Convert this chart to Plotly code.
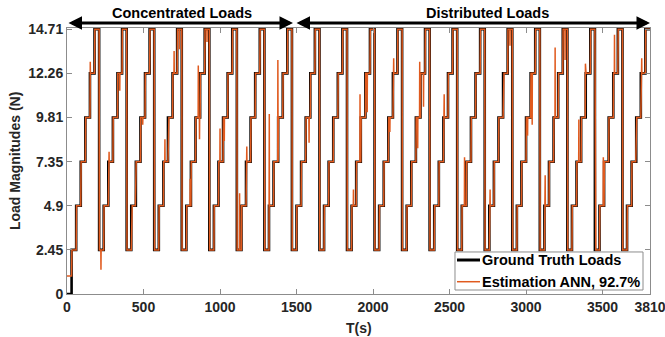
import plotly.graph_objects as go

# ---------------- data ----------------
truth_levels = [2.45, 4.9, 7.35, 9.81, 12.26, 14.71]
cycle_start_times = [30, 210, 390, 570, 750, 930, 1110, 1290, 1470, 1650, 1830,
                     2010, 2190, 2370, 2550, 2730, 2910, 3090, 3270, 3450, 3630]
step_duration = 30
end_time = 3810
initial_truth = 0.0
initial_estimate = 1.0
concentrated_end = 1477
distributed_start = 1490

# estimation excursions (time s, value N)
spike_times = [152, 222, 275, 345, 425, 448, 495, 640, 665, 700, 735, 805, 858, 866, 915,
               1000, 1028, 1128, 1175, 1322, 1378, 1582, 1872, 1915, 1962, 2110, 2135,
               2292, 2305, 2330, 2465, 2598, 2765, 2855, 2895, 3010, 3040, 3125, 3190,
               3255, 3345, 3388, 3455, 3505, 3578, 3718, 3722, 3756]
spike_values = [12.9, 1.35, 7.9, 11.3, 3.0, 5.3, 9.4, 8.6, 8.6, 13.5, 13.6, 6.4, 12.7, 8.6, 14.0,
                9.2, 8.5, 5.6, 8.2, 10.0, 13.0, 8.4, 5.8, 11.1, 10.1, 9.0, 13.1,
                8.1, 12.9, 10.4, 11.1, 7.6, 5.8, 11.0, 13.8, 8.8, 9.4, 6.6, 13.7,
                13.0, 9.7, 12.8, 3.7, 7.6, 14.4, 9.5, 8.3, 13.1]

x_tick_vals = [0, 500, 1000, 1500, 2000, 2500, 3000, 3500, 3810]
y_tick_vals = [0, 2.45, 4.9, 7.35, 9.81, 12.26, 14.71]
y_tick_text = ["0", "2.45", "4.9", "7.35", "9.81", "12.26", "14.71"]
series_names = ["Ground Truth Loads", "Estimation ANN, 92.7%"]
region_names = ["Concentrated Loads", "Distributed Loads"]

# ---------------- build series ----------------
step_t = [0.0]
step_v = [initial_truth]
for s in cycle_start_times:
    for i, lv in enumerate(truth_levels):
        step_t.append(s + i * step_duration)
        step_v.append(lv)
step_t.append(end_time)
step_v.append(step_v[-1])

# estimation: follows truth with a short lag, plus excursions
lag = 2.0
est_pts = [(0.0, initial_estimate), (step_t[1], initial_estimate)]
for k in range(1, len(step_t) - 1):
    est_pts.append((step_t[k] + lag, step_v[k]))
    est_pts.append((step_t[k + 1], step_v[k]))
est_pts.append((end_time, step_v[-1]))


def base_est(t):
    for (t0, v0), (t1, v1) in zip(est_pts[:-1], est_pts[1:]):
        if t0 <= t <= t1:
            if t1 == t0:
                return v1
            return v0 + (v1 - v0) * (t - t0) / (t1 - t0)
    return est_pts[-1][1]


extra = []
for ts, vs in zip(spike_times, spike_values):
    extra.append((ts - 1.0, base_est(ts - 1.0)))
    extra.append((ts, vs))
    extra.append((ts + 1.0, base_est(ts + 1.0)))

all_pts = sorted(est_pts + extra, key=lambda p: p[0])
est_t = [p[0] for p in all_pts]
est_v = [p[1] for p in all_pts]

# ---------------- figure ----------------
orange = "#E05A1E"
black_w = 2.6
orange_w = 1.5
fig = go.Figure()
fig.add_trace(go.Scatter(x=step_t, y=step_v, mode="lines", line_shape="hv",
                         line=dict(color="black", width=black_w),
                         name=series_names[0], showlegend=False))
fig.add_trace(go.Scatter(x=est_t, y=est_v, mode="lines",
                         line=dict(color=orange, width=orange_w),
                         name=series_names[1], showlegend=False))

FAM = "Liberation Sans"
axis_font = dict(family=FAM, size=14, color="#262626", weight="bold")
common = dict(ticks="inside", ticklen=5, tickcolor="#8c8c8c", showline=True, linecolor="#8c8c8c",
              linewidth=1, mirror="ticks", showgrid=False, zeroline=False, tickfont=axis_font,
              automargin=False)
fig.update_xaxes(range=[0, end_time], tickvals=x_tick_vals, ticktext=[str(v) for v in x_tick_vals],
                 ticklabeloverflow="allow", **common)
fig.update_yaxes(range=[0, 14.78], tickvals=y_tick_vals, ticktext=y_tick_text, **common)

title_font = dict(family=FAM, size=14.5, color="black", weight="bold")
# region arrows
fig.add_annotation(x=concentrated_end, y=1.019, xref="x", yref="paper", ax=0, ay=0,
                   axref="x", ayref="pixel", text="", showarrow=True, arrowside="end+start",
                   arrowhead=2, arrowsize=0.9, arrowwidth=3, arrowcolor="black")
fig.add_annotation(x=end_time, y=1.019, xref="x", yref="paper", ax=distributed_start, ay=0,
                   axref="x", ayref="pixel", text="", showarrow=True, arrowside="end+start",
                   arrowhead=2, arrowsize=0.9, arrowwidth=3, arrowcolor="black")
fig.add_annotation(x=752, y=1.055, xref="x", yref="paper",
                   text=region_names[0], showarrow=False, font=title_font, yanchor="middle")
fig.add_annotation(x=2745, y=1.055, xref="x", yref="paper",
                   text=region_names[1], showarrow=False, font=title_font, yanchor="middle")
# axis titles
fig.add_annotation(x=0.5, y=-0.128, xref="paper", yref="paper", text="T(s)", showarrow=False,
                   font=dict(family=FAM, size=14, color="#262626", weight="bold"),
                   yanchor="middle")
fig.add_annotation(x=-0.089, y=0.5, xref="paper", yref="paper", text="Load Magnitudes (N)",
                   showarrow=False, textangle=-90,
                   font=dict(family=FAM, size=14, color="#262626", weight="bold"),
                   xanchor="center", yanchor="middle")

# compact legend box (MATLAB style)
fig.add_shape(type="rect", xref="paper", yref="paper", x0=0.6655, x1=0.988, y0=0.015, y1=0.158,
              line=dict(color="#8c8c8c", width=1), fillcolor="white", layer="above")
legend_rows_y = [0.1278, 0.0462]
legend_colors = ["black", orange]
legend_widths = [black_w + 0.4, orange_w]
for name, yy, col, w in zip(series_names, legend_rows_y, legend_colors, legend_widths):
    fig.add_shape(type="line", xref="paper", yref="paper", x0=0.669, x1=0.7084, y0=yy, y1=yy,
                  line=dict(color=col, width=w), layer="above")
    fig.add_annotation(x=0.7100, y=yy, xref="paper", yref="paper", text=name, showarrow=False,
                       xanchor="left", yanchor="middle", borderpad=0,
                       font=dict(family=FAM, size=14.5, color="black", weight="bold"))

fig.update_layout(
    width=665, height=337,
    margin=dict(l=67, r=15, t=28, b=43, autoexpand=False),
    plot_bgcolor="white", paper_bgcolor="white",
    showlegend=False,
    font=dict(family=FAM),
)

fig.write_html("out.html", config={"displayModeBar": False},
               post_script="document.body.style.margin='0';document.body.style.overflow='hidden';")
